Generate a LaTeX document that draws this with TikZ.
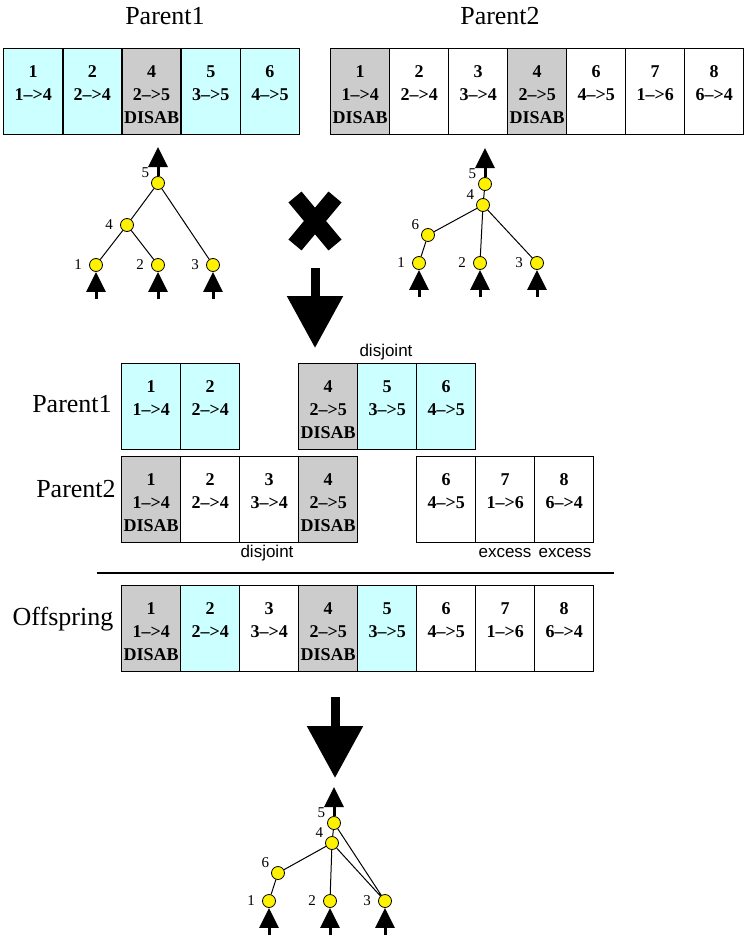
\documentclass[tikz,border=0pt]{standalone}
\usepackage{fontspec}
\setmainfont{Liberation Serif}
\setsansfont{Liberation Sans}
\usetikzlibrary{arrows.meta}
\definecolor{genecyan}{RGB}{204,255,255}
\definecolor{genegrey}{RGB}{204,204,204}
\def\genefont{\fontsize{18}{23}\selectfont\bfseries}
\def\gtext#1#2#3{\rule{0pt}{24pt}#1\\\strut#2\\\strut#3}

\begin{document}
\begin{tikzpicture}[x=1pt,y=-1pt,
    gene/.style={draw,line width=1.3pt,anchor=north west,minimum width=59pt,minimum height=86pt,inner sep=0pt,align=center,font=\genefont},
    gA/.style={fill=genecyan},
    gB/.style={fill=white},
    gX/.style={fill=genegrey},
    title/.style={font=\fontsize{26}{30}\selectfont,anchor=base},
    note/.style={font=\sffamily\fontsize{17}{19}\selectfont,anchor=base},
    nn/.style={circle,draw,fill=yellow,minimum size=13pt,inner sep=0pt,line width=0.8pt},
    lbl/.style={font=\fontsize{15}{17}\selectfont,inner sep=1pt},
    lft/.style={label={[lbl,label distance=6pt]left:#1}},
    ulf/.style={label={[lbl,label distance=2pt]150:#1}},
    link/.style={line width=1pt},
    inarr/.style={line width=3pt,-{Triangle[length=20pt,width=19pt]}},
    bigarr/.style={line width=9pt,-{Triangle[length=52pt,width=54pt]}}]
  \useasboundingbox (0,0) rectangle (748,939);

  % the two parents
  \node[title] (t1) at (165,25) {Parent1};
  \node[title] (t2) at (500,25) {Parent2};
  \foreach \col/\num/\con/\dis/\sty in {0/1/1-->4/{}/gA,1/2/2-->4/{}/gA,2/4/2-->5/DISAB/gX,3/5/3-->5/{}/gA,4/6/4-->5/{}/gA}
    \node[gene,\sty] (p1-\num) at ({3+59.2*\col},48) {\gtext{\num}{\con}{\dis}};
  \foreach \col/\num/\con/\dis/\sty in {0/1/1-->4/DISAB/gX,1/2/2-->4/{}/gB,2/3/3-->4/{}/gB,3/4/2-->5/DISAB/gX,4/6/4-->5/{}/gB,5/7/1-->6/{}/gB,6/8/6-->4/{}/gB}
    \node[gene,\sty] (p2-\num) at ({330+59*\col},48) {\gtext{\num}{\con}{\dis}};

  % network of parent 1
  \node[nn,ulf=5] (a5) at (158,183) {};
  \node[nn,lft=4] (a4) at (127,225) {};
  \node[nn,lft=1] (a1) at (96,265) {};
  \node[nn,lft=2] (a2) at (158,265) {};
  \node[nn,lft=3] (a3) at (213,265) {};
  \draw[link] (a5) -- (a4) (a4) -- (a1) (a4) -- (a2) (a5) -- (a3);
  \foreach \i in {1,2,3}
    \draw[inarr] ([yshift=-34pt]a\i.center) -- (a\i);
  \draw[inarr] (a5) -- ([yshift=36pt]a5.center);

  % network of parent 2
  \node[nn,ulf=5] (b5) at (485,184) {};
  \node[nn,ulf=4] (b4) at (483,205) {};
  \node[nn,ulf=6] (b6) at (428,235) {};
  \node[nn,lft=1] (b1) at (419,263) {};
  \node[nn,lft=2] (b2) at (480,263) {};
  \node[nn,lft=3] (b3) at (537,263) {};
  \draw[link] (b5) -- (b4) (b4) -- (b6) (b6) -- (b1) (b4) -- (b2) (b4) -- (b3);
  \foreach \i in {1,2,3}
    \draw[inarr] ([yshift=-34pt]b\i.center) -- (b\i);
  \draw[inarr] (b5) -- ([yshift=36pt]b5.center);

  % crossover
  \draw[line width=17pt] (295,197) -- (335,245) (335,197) -- (295,245);
  \draw[bigarr] (315,268) -- (315,348);

  % genes lined up by number
  \node[note] (dj1) at (386,356) {disjoint};
  \node[title] (l1) at (72,412) {Parent1};
  \node[title] (l2) at (76,497) {Parent2};
  \foreach \col/\num/\con/\dis/\sty in {0/1/1-->4/{}/gA,1/2/2-->4/{}/gA,3/4/2-->5/DISAB/gX,4/5/3-->5/{}/gA,5/6/4-->5/{}/gA}
    \node[gene,\sty] (m1-\num) at ({121+59*\col},363) {\gtext{\num}{\con}{\dis}};
  \foreach \col/\num/\con/\dis/\sty in {0/1/1-->4/DISAB/gX,1/2/2-->4/{}/gB,2/3/3-->4/{}/gB,3/4/2-->5/DISAB/gX,5/6/4-->5/{}/gB,6/7/1-->6/{}/gB,7/8/6-->4/{}/gB}
    \node[gene,\sty] (m2-\num) at ({121+59*\col},456) {\gtext{\num}{\con}{\dis}};
  \node[note] (dj2) at (267,557) {disjoint};
  \node[note] (ex1) at (505,557) {excess};
  \node[note] (ex2) at (565,557) {excess};
  \draw[line width=1.5pt] (97,573) -- (614,573);

  % offspring
  \node[title] (l3) at (63,625) {Offspring};
  \foreach \col/\num/\con/\dis/\sty in {0/1/1-->4/DISAB/gX,1/2/2-->4/{}/gA,2/3/3-->4/{}/gB,3/4/2-->5/DISAB/gX,4/5/3-->5/{}/gA,5/6/4-->5/{}/gB,6/7/1-->6/{}/gB,7/8/6-->4/{}/gB}
    \node[gene,\sty] (o-\num) at ({121+59*\col},585) {\gtext{\num}{\con}{\dis}};
  \draw[bigarr] (335,697) -- (335,778);

  % network of offspring
  \node[nn,ulf=5] (c5) at (334,823) {};
  \node[nn,ulf=4] (c4) at (332,843) {};
  \node[nn,ulf=6] (c6) at (278,873) {};
  \node[nn,lft=1] (c1) at (269,901) {};
  \node[nn,lft=2] (c2) at (330,901) {};
  \node[nn,lft=3] (c3) at (385,901) {};
  \draw[link] (c5) -- (c4) (c4) -- (c6) (c6) -- (c1) (c4) -- (c2) (c4) -- (c3) (c5) -- (c3);
  \foreach \i in {1,2,3}
    \draw[inarr] ([yshift=-34pt]c\i.center) -- (c\i);
  \draw[inarr] (c5) -- ([yshift=36pt]c5.center);
\end{tikzpicture}
\end{document}
